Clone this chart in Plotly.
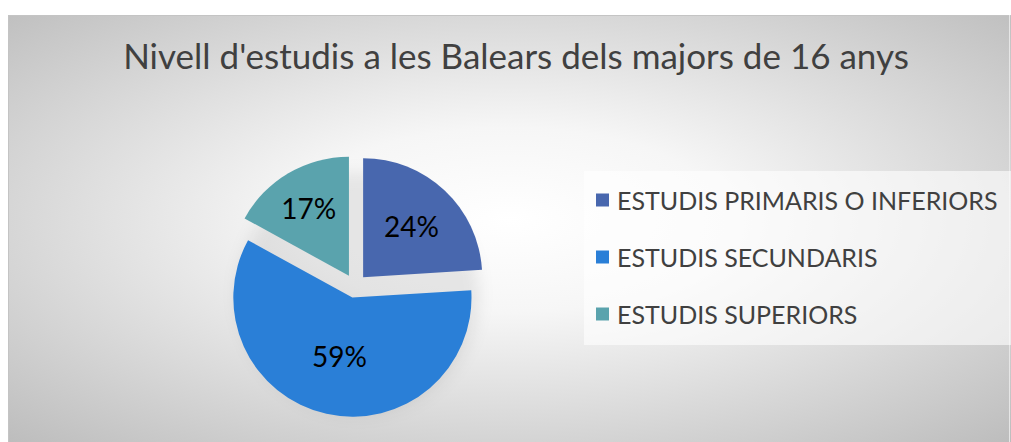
import base64
import plotly.graph_objects as go

# ---- data ----
categories = ["ESTUDIS PRIMARIS O INFERIORS", "ESTUDIS SECUNDARIS", "ESTUDIS SUPERIORS"]
values = [24, 59, 17]
colors = ["#4867ae", "#2a7fd7", "#5aa3ad"]
title_text = "Nivell d'estudis a les Balears dels majors de 16 anys"

W, H = 1011, 442


def px(x):
    return x / W


def py(y):
    return 1 - y / H


# pie placement (pixels)
cx, cy, R = 355, 286, 131

# ---- background: radial grey gradient (chart area) + soft shadow behind pie ----
BX, BY = 8, 15
BW, BH = W - BX, H - BY
svg = f"""<svg xmlns='http://www.w3.org/2000/svg' width='{BW}' height='{BH}' viewBox='0 0 {BW} {BH}' preserveAspectRatio='none'>
<defs><radialGradient id='g' cx='0.5' cy='0.48' r='0.72' fx='0.5' fy='0.48'>
<stop offset='0' stop-color='#ffffff'/><stop offset='0.3' stop-color='#f6f6f6'/>
<stop offset='1' stop-color='#bdbdbd'/></radialGradient>
<filter id='b' x='-30%' y='-30%' width='160%' height='160%'><feGaussianBlur stdDeviation='8'/></filter></defs>
<rect x='0' y='0' width='{BW}' height='{BH}' fill='url(#g)'/>
<circle cx='{cx - BX + 3}' cy='{cy - BY + 8}' r='{R * 0.92:.1f}' fill='#000' fill-opacity='0.08' filter='url(#b)'/>
<line x1='0' y1='0.5' x2='{BW}' y2='0.5' stroke='#c4c4c4' stroke-width='1'/>
<line x1='0.5' y1='0' x2='0.5' y2='{BH}' stroke='#c4c4c4' stroke-width='1'/>
<line x1='{BW - 1.5}' y1='0' x2='{BW - 1.5}' y2='{BH}' stroke='#e6e6e6' stroke-width='1'/>
</svg>"""
bg_src = "data:image/svg+xml;base64," + base64.b64encode(svg.encode()).decode()

fig = go.Figure()
fig.add_trace(go.Pie(
    labels=categories,
    values=values,
    sort=False,
    direction="clockwise",
    rotation=0,
    pull=[0.1, 0.1, 0.1],
    marker=dict(colors=colors, line=dict(width=0)),
    texttemplate="%{percent:.0%}",
    textposition="inside",
    insidetextorientation="horizontal",
    textfont=dict(family="Lato", size=28, color="#000000"),
    domain=dict(x=[px(cx - R), px(cx + R)], y=[py(cy + R), py(cy - R)]),
    showlegend=False,
    hoverinfo="label+percent",
))

# legend drawn from the same arrays
fig.add_shape(type="rect", xref="paper", yref="paper",
              x0=px(584), x1=px(1030), y0=py(345), y1=py(171),
              fillcolor="rgba(255,255,255,0.6)", line=dict(width=0), layer="below")
for i, (lab, col) in enumerate(zip(categories, colors)):
    yc = 200 + 57 * i
    fig.add_shape(type="rect", xref="paper", yref="paper",
                  x0=px(596), x1=px(609), y0=py(yc + 6.5), y1=py(yc - 6.5),
                  fillcolor=col, line=dict(width=0))
    fig.add_annotation(x=px(615), y=py(yc), xref="paper", yref="paper",
                       text=lab, showarrow=False, xanchor="left", yanchor="middle",
                       font=dict(family="Lato", size=25, color="#404040"))

fig.update_layout(
    width=W, height=H,
    margin=dict(l=0, r=0, t=0, b=0),
    paper_bgcolor="#ffffff",
    title=dict(text=title_text, x=px(516), xanchor="center", y=py(57), yanchor="middle",
               font=dict(family="Lato", size=35, color="#404040")),
    images=[dict(source=bg_src, xref="paper", yref="paper", x=px(BX), y=py(BY),
                 sizex=BW / W, sizey=BH / H, xanchor="left", yanchor="top",
                 sizing="stretch", layer="below")],
)

fig.write_html(
    "out.html",
    config={"displayModeBar": False},
    post_script="document.body.style.margin='0';document.documentElement.style.overflow='hidden';document.body.style.overflow='hidden';",
)
